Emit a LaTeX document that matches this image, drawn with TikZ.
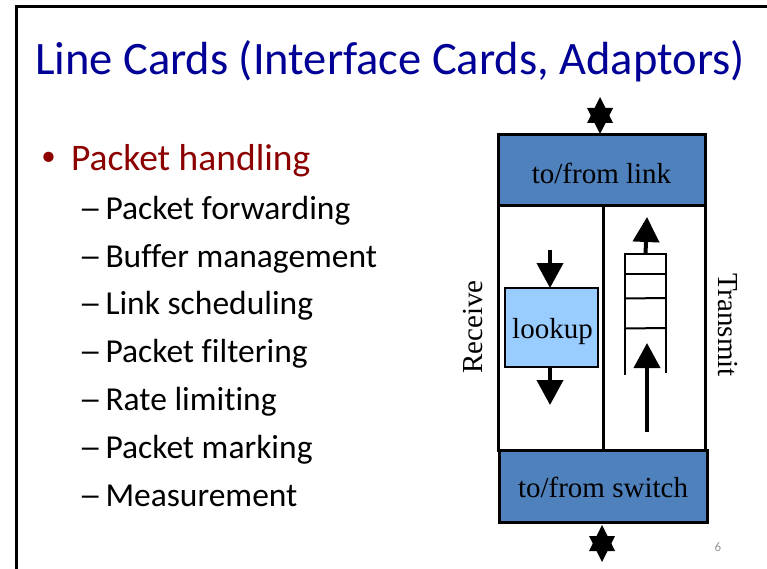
\documentclass[tikz,border=0pt]{standalone}
\usepackage{graphicx}
\usepackage{fontspec}
\setmainfont{Liberation Serif}
\newfontfamily\slidefont[Ligatures={NoCommon,NoContextual,NoRare}]{Carlito}
\usetikzlibrary{arrows.meta,calc}
\definecolor{titleblue}{RGB}{0,0,150}
\definecolor{bulletred}{RGB}{140,0,0}
\definecolor{cardblue}{RGB}{79,129,189}
\definecolor{lookupblue}{RGB}{153,204,255}
\definecolor{pagegray}{RGB}{150,150,150}
\newcommand{\itemdash}{\makebox[27pt][l]{\scalebox{1.4}[1]{–}}}
\tikzset{
  plain/.style={inner sep=0pt, outer sep=0pt},
  cardbox/.style={draw=black, line width=3pt, fill=cardblue},
  frameline/.style={draw=black, line width=3pt},
  flowarrow/.style={line width=4pt, -{Triangle[width=26pt,length=25pt]}},
  queueline/.style={line width=2pt, line cap=butt},
  hexstar/.style={fill=black},
  itemtext/.style={plain, anchor=base west, font=\slidefont\fontsize{33.5}{40}\selectfont},
  boxtext/.style={plain, font=\fontsize{29}{34}\selectfont}
}
\begin{document}
\begin{tikzpicture}[x=1pt, y=-1pt]
  \useasboundingbox (0,0) rectangle (767,569);
  \fill[white] (0,0) rectangle (767,569);

  % slide border
  \draw[line width=2.5pt] (16.5,569) -- (16.5,6.5) -- (767,6.5);

  % title
  \node[plain, anchor=base west, text=titleblue,
        font=\slidefont\fontsize{46.5}{56}\selectfont] (title) at (35,75)
        {Line Cards (Interface Cards, Adaptors)};

  % bullet list
  \node[plain, text=bulletred, font=\slidefont\fontsize{29}{35}\selectfont]
        (dot) at (48.5,159) {•};
  \node[plain, anchor=base west, text=bulletred,
        font=\slidefont\fontsize{37.5}{45}\selectfont] (head) at (71,171)
        {Packet handling};
  \node[itemtext] (i1) at (78.5,219) {\itemdash Packet forwarding};
  \node[itemtext] (i2) at (78.5,267) {\itemdash Buffer management};
  \node[itemtext] (i3) at (78.5,314) {\itemdash Link scheduling};
  \node[itemtext] (i4) at (78.5,362) {\itemdash Packet filtering};
  \node[itemtext] (i5) at (78.5,410) {\itemdash Rate limiting};
  \node[itemtext] (i6) at (78.5,458) {\itemdash Packet marking};
  \node[itemtext] (i7) at (78.5,506) {\itemdash Measurement};

  % line card body
  \draw[frameline] (498,206) rectangle (705,450);
  \draw[frameline] (603,206) -- (603,450);
  \draw[cardbox] (498,135) rectangle (705,206);
  \node[boxtext] (link) at (601.5,173) {to/from link};
  \draw[cardbox] (499,450) rectangle (707,522);
  \node[boxtext] (switch) at (603,487) {to/from switch};

  % receive side
  \node[plain, draw=black, line width=2.5pt, fill=lookupblue,
        minimum width=93pt, minimum height=79pt] (lookup) at (551.5,327.5) {};
  \node[boxtext, anchor=base] (lookuptext) at (552.5,338) {lookup};
  \coordinate (inTop) at (550,250);
  \coordinate (inBot) at (550,405);
  \draw[flowarrow] (inTop) -- (inTop |- lookup.north);
  \draw[flowarrow] (inBot |- lookup.south) -- (inBot);

  % transmit queue
  \coordinate (qTL) at (625,254);
  \coordinate (qTR) at (666,254);
  \draw[queueline] (625,375) -- (qTL) -- (qTR) -- (666,373);
  \draw[queueline] (625,274) -- (666,274);
  \draw[queueline] (625,298.5) -- (666,298);
  \draw[queueline] (625,328.5) -- (666,328);
  \coordinate (qOut) at (647,217);
  \coordinate (qIn) at (647,432);
  \coordinate (qHead) at (647,343);
  \draw[flowarrow] ($(qTL)!0.5!(qTR)$) -- (qOut);
  \draw[flowarrow] (qIn) -- (qHead);

  % side labels
  \node[boxtext, rotate=90] (rx) at (473,327) {Receive};
  \node[boxtext, rotate=-90] (tx) at (728,325) {Transmit};

  % bidirectional ports
  \foreach \cx/\cy in {600/115.5, 602/543.5} {
    \fill[hexstar] (\cx,\cy-18.5) -- (\cx+13,\cy+7.5) -- (\cx-13,\cy+7.5) -- cycle;
    \fill[hexstar] (\cx,\cy+18.5) -- (\cx+13,\cy-7.5) -- (\cx-13,\cy-7.5) -- cycle;
  }

  % page number
  \node[plain, text=pagegray, font=\slidefont\fontsize{13}{15}\selectfont]
        (page) at (718,547) {6};
\end{tikzpicture}
\end{document}
